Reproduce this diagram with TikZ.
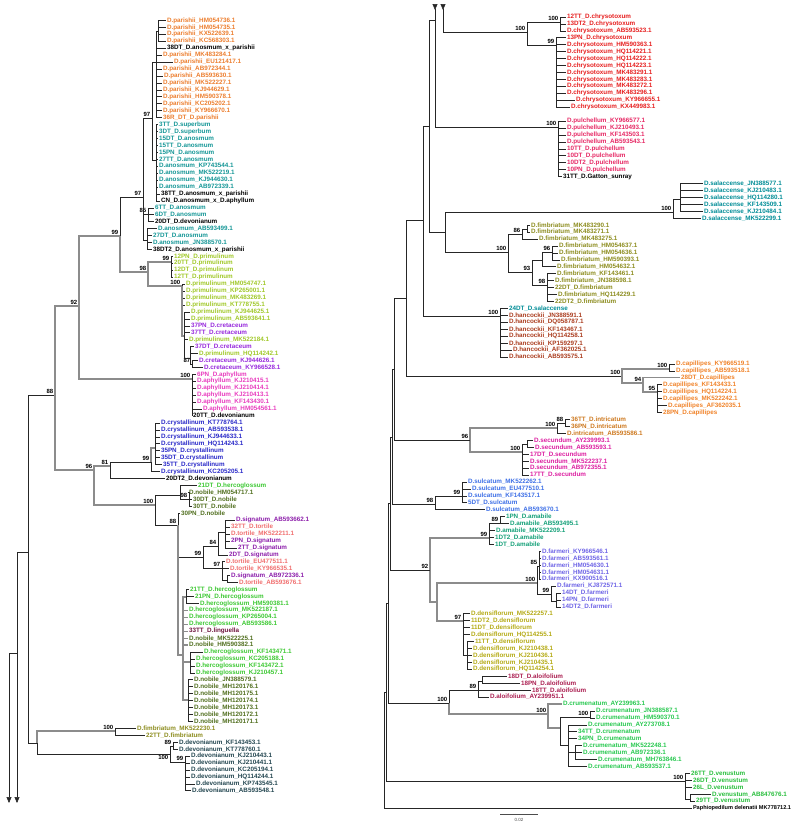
\documentclass[tikz,border=0pt]{standalone}
\usepackage{fontspec}
\setmainfont{Liberation Sans}
\usetikzlibrary{arrows.meta}
\definecolor{cpar}{RGB}{236,125,45}
\definecolor{cano}{RGB}{20,150,150}
\definecolor{cpri}{RGB}{160,200,40}
\definecolor{ccre}{RGB}{150,40,220}
\definecolor{caph}{RGB}{232,60,190}
\definecolor{ccry}{RGB}{40,40,200}
\definecolor{cher}{RGB}{60,200,50}
\definecolor{cnob}{RGB}{80,110,30}
\definecolor{csig}{RGB}{140,30,170}
\definecolor{ctor}{RGB}{240,110,110}
\definecolor{clin}{RGB}{110,20,60}
\definecolor{cfim}{RGB}{140,140,30}
\definecolor{cdev}{RGB}{35,70,80}
\definecolor{cchr}{RGB}{230,30,30}
\definecolor{cpul}{RGB}{230,40,100}
\definecolor{csal}{RGB}{0,140,150}
\definecolor{chan}{RGB}{170,60,30}
\definecolor{ccap}{RGB}{240,130,40}
\definecolor{cint}{RGB}{205,120,30}
\definecolor{csec}{RGB}{220,30,160}
\definecolor{csul}{RGB}{60,110,230}
\definecolor{cama}{RGB}{20,160,120}
\definecolor{cfar}{RGB}{110,100,230}
\definecolor{cden}{RGB}{180,170,20}
\definecolor{calo}{RGB}{170,30,80}
\definecolor{ccru}{RGB}{40,200,80}
\definecolor{cven}{RGB}{40,190,60}
% leaves: left column rows and right column rows
\newcommand\lf[5]{\node[lf,text=#4] (#1) at (#2,{13.5+6.94*#3}) {#5};}
\newcommand\rf[5]{\node[lf,text=#4] (#1) at (#2,{10+6.94*#3}) {#5};}
% inner node with its support value
\newcommand\nd[4]{\coordinate (#1) at (#2,#3); \node[bs] (#1-bs) at (#1) {#4};}
\newcommand\kids[3][br]{\foreach \c in {#3} {\draw[#1] (#2) |- (\c);}}
\begin{document}
\begin{tikzpicture}[x=1pt,y=-1pt,
  lf/.style={anchor=west,inner xsep=0.8pt,inner ysep=0pt,font=\fontsize{6.3}{7}\selectfont\bfseries},
  bs/.style={anchor=south east,inner sep=0pt,xshift=-1.5pt,yshift=1pt,font=\fontsize{6}{6}\selectfont\bfseries},
  br/.style={line width=0.6pt,black!85},
  gb/.style={line width=1.1pt,black!45},
  tip/.style={-{Triangle[width=5pt,length=6pt]}}]
\useasboundingbox (0,0) rectangle (790,822);

% ---- left column leaves
\lf{pa1}{166}{1}{cpar}{D.parishii\_HM054736.1}
\lf{pa2}{166}{2}{cpar}{D.parishii\_HM054735.1}
\lf{pa3}{166}{3}{cpar}{D.parishii\_KX522639.1}
\lf{pa4}{166}{4}{cpar}{D.parishii\_KC568303.1}
\lf{hy1}{166}{5}{black}{38DT\_D.anosmum\_x\_parishii}
\lf{pa5}{162}{6}{cpar}{D.parishii\_MK483284.1}
\lf{pa6}{173}{7}{cpar}{D.parishii\_EU121417.1}
\lf{pa7}{162}{8}{cpar}{D.parishii\_AB972344.1}
\lf{pa8}{163}{9}{cpar}{D.parishii\_AB593630.1}
\lf{pa9}{162}{10}{cpar}{D.parishii\_MK522227.1}
\lf{pa10}{162}{11}{cpar}{D.parishii\_KJ944629.1}
\lf{pa11}{162}{12}{cpar}{D.parishii\_HM590378.1}
\lf{pa12}{162}{13}{cpar}{D.parishii\_KC205202.1}
\lf{pa13}{162}{14}{cpar}{D.parishii\_KY966670.1}
\lf{pa14}{162}{15}{cpar}{36R\_DT\_D.parishii}
\lf{an1}{158}{16}{cano}{3TT\_D.superbum}
\lf{an2}{158}{17}{cano}{3DT\_D.superbum}
\lf{an3}{158}{18}{cano}{15DT\_D.anosmum}
\lf{an4}{158}{19}{cano}{15TT\_D.anosmum}
\lf{an5}{158}{20}{cano}{15PN\_D.anosmum}
\lf{an6}{158}{21}{cano}{27TT\_D.anosmum}
\lf{an7}{158}{22}{cano}{D.anosmum\_KP743544.1}
\lf{an8}{158}{23}{cano}{D.anosmum\_MK522219.1}
\lf{an9}{158}{24}{cano}{D.anosmum\_KJ944630.1}
\lf{an10}{158}{25}{cano}{D.anosmum\_AB972339.1}
\lf{hy2}{160}{26}{black}{38TT\_D.anosmum\_x\_parishii}
\lf{hy3}{160}{27}{black}{CN\_D.anosmum\_x\_D.aphyllum}
\lf{an11}{154}{28}{cano}{6TT\_D.anosmum}
\lf{an12}{154}{29}{cano}{6DT\_D.anosmum}
\lf{dv1}{154}{30}{black}{20DT\_D.devonianum}
\lf{an13}{157}{31}{cano}{D.anosmum\_AB593499.1}
\lf{an14}{152}{32}{cano}{27DT\_D.anosmum}
\lf{an15}{152}{33}{cano}{D.anosmum\_JN388570.1}
\lf{hy4}{152}{34}{black}{38DT2\_D.anosmum\_x\_parishii}
\lf{pr1}{173}{35}{cpri}{12PN\_D.primulinum}
\lf{pr2}{173}{36}{cpri}{20TT\_D.primulinum}
\lf{pr3}{173}{37}{cpri}{12DT\_D.primulinum}
\lf{pr4}{173}{38}{cpri}{12TT\_D.primulinum}
\lf{pr5}{185}{39}{cpri}{D.primulinum\_HM054747.1}
\lf{pr6}{185}{40}{cpri}{D.primulinum\_KP265001.1}
\lf{pr7}{185}{41}{cpri}{D.primulinum\_MK483269.1}
\lf{pr8}{185}{42}{cpri}{D.primulinum\_KT778755.1}
\lf{pr9}{190}{43}{cpri}{D.primulinum\_KJ944625.1}
\lf{pr10}{190}{44}{cpri}{D.primulinum\_AB593641.1}
\lf{cr1}{190}{45}{ccre}{37PN\_D.cretaceum}
\lf{cr2}{190}{46}{ccre}{37TT\_D.cretaceum}
\lf{pr11}{188}{47}{cpri}{D.primulinum\_MK522184.1}
\lf{cr3}{194}{48}{ccre}{37DT\_D.cretaceum}
\lf{pr12}{198}{49}{cpri}{D.primulinum\_HQ114242.1}
\lf{cr4}{198}{50}{ccre}{D.cretaceum\_KJ944626.1}
\lf{cr5}{203}{51}{ccre}{D.cretaceum\_KY966528.1}
\lf{ap1}{196}{52}{caph}{6PN\_D.aphyllum}
\lf{ap2}{196}{53}{caph}{D.aphyllum\_KJ210415.1}
\lf{ap3}{196}{54}{caph}{D.aphyllum\_KJ210414.1}
\lf{ap4}{196}{55}{caph}{D.aphyllum\_KJ210413.1}
\lf{ap5}{196}{56}{caph}{D.aphyllum\_KF143430.1}
\lf{ap6}{202}{57}{caph}{D.aphyllum\_HM054561.1}
\lf{dv2}{192}{58}{black}{20TT\_D.devonianum}
\lf{cy1}{160}{59}{ccry}{D.crystallinum\_KT778764.1}
\lf{cy2}{160}{60}{ccry}{D.crystallinum\_AB593538.1}
\lf{cy3}{160}{61}{ccry}{D.crystallinum\_KJ944633.1}
\lf{cy4}{160}{62}{ccry}{D.crystallinum\_HQ114243.1}
\lf{cy5}{160}{63}{ccry}{35PN\_D.crystallinum}
\lf{cy6}{160}{64}{ccry}{35DT\_D.crystallinum}
\lf{cy7}{162}{65}{ccry}{35TT\_D.crystallinum}
\lf{cy8}{160}{66}{ccry}{D.crystallinum\_KC205205.1}
\lf{dv3}{165}{67}{black}{20DT2\_D.devonianum}
\lf{he1}{197}{68}{cher}{21DT\_D.hercoglossum}
\lf{no1}{188}{69}{cnob}{D.nobile\_HM054717.1}
\lf{no2}{192}{70}{cnob}{30DT\_D.nobile}
\lf{no3}{192}{71}{cnob}{30TT\_D.nobile}
\lf{no4}{180}{72}{cnob}{30PN\_D.nobile}
\lf{si1}{235}{73}{csig}{D.signatum\_AB593662.1}
\lf{to1}{230}{74}{ctor}{32TT\_D.tortile}
\lf{to2}{230}{75}{ctor}{D.tortile\_MK522211.1}
\lf{si2}{230}{76}{csig}{2PN\_D.signatum}
\lf{si3}{237}{77}{csig}{2TT\_D.signatum}
\lf{si4}{228}{78}{csig}{2DT\_D.signatum}
\lf{to3}{225}{79}{ctor}{D.tortile\_EU477511.1}
\lf{to4}{229}{80}{ctor}{D.tortile\_KY966535.1}
\lf{si5}{230}{81}{csig}{D.signatum\_AB972336.1}
\lf{to5}{238}{82}{ctor}{D.tortile\_AB593676.1}
\lf{he2}{189}{83}{cher}{21TT\_D.hercoglossum}
\lf{he3}{194}{84}{cher}{21PN\_D.hercoglossum}
\lf{he4}{199}{85}{cher}{D.hercoglossum\_HM590381.1}
\lf{he5}{188}{86}{cher}{D.hercoglossum\_MK522187.1}
\lf{he6}{188}{87}{cher}{D.hercoglossum\_KP265004.1}
\lf{he7}{188}{88}{cher}{D.hercoglossum\_AB593586.1}
\lf{li1}{188}{89}{clin}{33TT\_D.linguella}
\lf{no5}{188}{90}{cnob}{D.nobile\_MK522225.1}
\lf{no6}{188}{91}{cnob}{D.nobile\_HM590382.1}
\lf{he8}{203}{92}{cher}{D.hercoglossum\_KF143471.1}
\lf{he9}{195}{93}{cher}{D.hercoglossum\_KC205188.1}
\lf{he10}{195}{94}{cher}{D.hercoglossum\_KF143472.1}
\lf{he11}{195}{95}{cher}{D.hercoglossum\_KJ210457.1}
\lf{no7}{193}{96}{cnob}{D.nobile\_JN388579.1}
\lf{no8}{193}{97}{cnob}{D.nobile\_MH120176.1}
\lf{no9}{193}{98}{cnob}{D.nobile\_MH120175.1}
\lf{no10}{193}{99}{cnob}{D.nobile\_MH120174.1}
\lf{no11}{193}{100}{cnob}{D.nobile\_MH120173.1}
\lf{no12}{193}{101}{cnob}{D.nobile\_MH120172.1}
\lf{no13}{193}{102}{cnob}{D.nobile\_MH120171.1}
\lf{fi1}{136}{103}{cfim}{D.fimbriatum\_MK522230.1}
\lf{fi2}{145}{104}{cfim}{22TT\_D.fimbriatum}
\lf{de1}{178}{105}{cdev}{D.devonianum\_KF143453.1}
\lf{de2}{178}{106}{cdev}{D.devonianum\_KT778760.1}
\lf{de3}{190}{107}{cdev}{D.devonianum\_KJ210443.1}
\lf{de4}{190}{108}{cdev}{D.devonianum\_KJ210441.1}
\lf{de5}{190}{109}{cdev}{D.devonianum\_KC205194.1}
\lf{de6}{190}{110}{cdev}{D.devonianum\_HQ114244.1}
\lf{de7}{195}{111}{cdev}{D.devonianum\_KP743545.1}
\lf{de8}{191}{112}{cdev}{D.devonianum\_AB593548.1}

% ---- right column leaves
\rf{ch1}{566}{1}{cchr}{12TT\_D.chrysotoxum}
\rf{ch2}{566}{2}{cchr}{13DT2\_D.chrysotoxum}
\rf{ch3}{566}{3}{cchr}{D.chrysotoxum\_AB593523.1}
\rf{ch4}{566}{4}{cchr}{13PN\_D.chrysotoxum}
\rf{ch5}{566}{5}{cchr}{D.chrysotoxum\_HM590363.1}
\rf{ch6}{566}{6}{cchr}{D.chrysotoxum\_HQ114221.1}
\rf{ch7}{566}{7}{cchr}{D.chrysotoxum\_HQ114222.1}
\rf{ch8}{566}{8}{cchr}{D.chrysotoxum\_HQ114223.1}
\rf{ch9}{566}{9}{cchr}{D.chrysotoxum\_MK483291.1}
\rf{ch10}{566}{10}{cchr}{D.chrysotoxum\_MK483283.1}
\rf{ch11}{566}{11}{cchr}{D.chrysotoxum\_MK483272.1}
\rf{ch12}{566}{12}{cchr}{D.chrysotoxum\_MK483296.1}
\rf{ch13}{575}{13}{cchr}{D.chrysotoxum\_KY966655.1}
\rf{ch14}{570}{14}{cchr}{D.chrysotoxum\_KX449983.1}
\rf{pu1}{566}{16}{cpul}{D.pulchellum\_KY966577.1}
\rf{pu2}{566}{17}{cpul}{D.pulchellum\_KJ210493.1}
\rf{pu3}{566}{18}{cpul}{D.pulchellum\_KF143503.1}
\rf{pu4}{566}{19}{cpul}{D.pulchellum\_AB593543.1}
\rf{pu5}{566}{20}{cpul}{10TT\_D.pulchellum}
\rf{pu6}{566}{21}{cpul}{10DT\_D.pulchellum}
\rf{pu7}{566}{22}{cpul}{10DT2\_D.pulchellum}
\rf{pu8}{566}{23}{cpul}{10PN\_D.pulchellum}
\rf{gs1}{562}{24}{black}{31TT\_D.Gatton\_sunray}
\rf{sa1}{703}{25}{csal}{D.salaccense\_JN388577.1}
\rf{sa2}{703}{26}{csal}{D.salaccense\_KJ210483.1}
\rf{sa3}{703}{27}{csal}{D.salaccense\_HQ114280.1}
\rf{sa4}{703}{28}{csal}{D.salaccense\_KF143509.1}
\rf{sa5}{703}{29}{csal}{D.salaccense\_KJ210484.1}
\rf{sa6}{701}{30}{csal}{D.salaccense\_MK522299.1}
\rf{fm1}{530}{31}{cfim}{D.fimbriatum\_MK483290.1}
\rf{fm2}{530}{32}{cfim}{D.fimbriatum\_MK483271.1}
\rf{fm3}{538}{33}{cfim}{D.fimbriatum\_MK483275.1}
\rf{fm4}{558}{34}{cfim}{D.fimbriatum\_HM054637.1}
\rf{fm5}{558}{35}{cfim}{D.fimbriatum\_HM054636.1}
\rf{fm6}{560}{36}{cfim}{D.fimbriatum\_HM590393.1}
\rf{fm7}{556}{37}{cfim}{D.fimbriatum\_HM054632.1}
\rf{fm8}{556}{38}{cfim}{D.fimbriatum\_KF143461.1}
\rf{fm9}{554}{39}{cfim}{D.fimbriatum\_JN388598.1}
\rf{fm10}{554}{40}{cfim}{22DT\_D.fimbriatum}
\rf{fm11}{557}{41}{cfim}{D.fimbriatum\_HQ114229.1}
\rf{fm12}{554}{42}{cfim}{22DT2\_D.fimbriatum}
\rf{sl1}{508}{43}{csal}{24DT\_D.salaccense}
\rf{hk1}{508}{44}{chan}{D.hancockii\_JN388591.1}
\rf{hk2}{508}{45}{chan}{D.hancockii\_DQ058787.1}
\rf{hk3}{508}{46}{chan}{D.hancockii\_KF143467.1}
\rf{hk4}{508}{47}{chan}{D.hancockii\_HQ114258.1}
\rf{hk5}{508}{48}{chan}{D.hancockii\_KP159297.1}
\rf{hk6}{512}{49}{chan}{D.hancockii\_AF362025.1}
\rf{hk7}{508}{50}{chan}{D.hancockii\_AB593575.1}
\rf{ca1}{675}{51}{ccap}{D.capillipes\_KY966519.1}
\rf{ca2}{675}{52}{ccap}{D.capillipes\_AB593518.1}
\rf{ca3}{680}{53}{ccap}{28DT\_D.capillipes}
\rf{ca4}{662}{54}{ccap}{D.capillipes\_KF143433.1}
\rf{ca5}{662}{55}{ccap}{D.capillipes\_HQ114224.1}
\rf{ca6}{662}{56}{ccap}{D.capillipes\_MK522242.1}
\rf{ca7}{667}{57}{ccap}{D.capillipes\_AF362035.1}
\rf{ca8}{662}{58}{ccap}{28PN\_D.capillipes}
\rf{in1}{570}{59}{cint}{36TT\_D.intricatum}
\rf{in2}{570}{60}{cint}{36PN\_D.intricatum}
\rf{in3}{566}{61}{cint}{D.intricatum\_AB593586.1}
\rf{se1}{533}{62}{csec}{D.secundum\_AY239993.1}
\rf{se2}{534}{63}{csec}{D.secundum\_AB593593.1}
\rf{se3}{529}{64}{csec}{17DT\_D.secundum}
\rf{se4}{529}{65}{csec}{D.secundum\_MK522237.1}
\rf{se5}{529}{66}{csec}{D.secundum\_AB972355.1}
\rf{se6}{529}{67}{csec}{17TT\_D.secundum}
\rf{su1}{467}{68}{csul}{D.sulcatum\_MK522262.1}
\rf{su2}{471}{69}{csul}{D.sulcatum\_EU477510.1}
\rf{su3}{467}{70}{csul}{D.sulcatum\_KF143517.1}
\rf{su4}{467}{71}{csul}{5DT\_D.sulcatum}
\rf{su5}{485}{72}{csul}{D.sulcatum\_AB593670.1}
\rf{am1}{505}{73}{cama}{1PN\_D.amabile}
\rf{am2}{509}{74}{cama}{D.amabile\_AB593495.1}
\rf{am3}{495}{75}{cama}{D.amabile\_MK522209.1}
\rf{am4}{494}{76}{cama}{1DT2\_D.amabile}
\rf{am5}{494}{77}{cama}{1DT\_D.amabile}
\rf{fa1}{541}{78}{cfar}{D.farmeri\_KY966546.1}
\rf{fa2}{541}{79}{cfar}{D.farmeri\_AB593561.1}
\rf{fa3}{541}{80}{cfar}{D.farmeri\_HM054630.1}
\rf{fa4}{541}{81}{cfar}{D.farmeri\_HM054631.1}
\rf{fa5}{541}{82}{cfar}{D.farmeri\_KX900516.1}
\rf{fa6}{556}{83}{cfar}{D.farmeri\_KJ872571.1}
\rf{fa7}{561}{84}{cfar}{14DT\_D.farmeri}
\rf{fa8}{561}{85}{cfar}{14PN\_D.farmeri}
\rf{fa9}{561}{86}{cfar}{14DT2\_D.farmeri}
\rf{dn1}{470}{87}{cden}{D.densiflorum\_MK522257.1}
\rf{dn2}{470}{88}{cden}{11DT2\_D.densiflorum}
\rf{dn3}{470}{89}{cden}{11DT\_D.densiflorum}
\rf{dn4}{470}{90}{cden}{D.densiflorum\_HQ114255.1}
\rf{dn5}{474}{91}{cden}{11TT\_D.densiflorum}
\rf{dn6}{472}{92}{cden}{D.densiflorum\_KJ210438.1}
\rf{dn7}{472}{93}{cden}{D.densiflorum\_KJ210436.1}
\rf{dn8}{472}{94}{cden}{D.densiflorum\_KJ210435.1}
\rf{dn9}{472}{95}{cden}{D.densiflorum\_HQ114254.1}
\rf{al1}{507}{96}{calo}{18DT\_D.aloifolium}
\rf{al2}{520}{97}{calo}{18PN\_D.aloifolium}
\rf{al3}{531}{98}{calo}{18TT\_D.aloifolium}
\rf{al4}{489}{99}{calo}{D.aloifolium\_AY239951.1}
\rf{cu1}{562}{100}{ccru}{D.crumenatum\_AY239963.1}
\rf{cu2}{595}{101}{ccru}{D.crumenatum\_JN388587.1}
\rf{cu3}{595}{102}{ccru}{D.crumenatum\_HM590370.1}
\rf{cu4}{587}{103}{ccru}{D.crumenatum\_AY273708.1}
\rf{cu5}{577}{104}{ccru}{34TT\_D.crumenatum}
\rf{cu6}{577}{105}{ccru}{34PN\_D.crumenatum}
\rf{cu7}{582}{106}{ccru}{D.crumenatum\_MK522248.1}
\rf{cu8}{582}{107}{ccru}{D.crumenatum\_AB972336.1}
\rf{cu9}{597}{108}{ccru}{D.crumenatum\_MH763846.1}
\rf{cu10}{587}{109}{ccru}{D.crumenatum\_AB593537.1}
\rf{ve1}{690}{110}{cven}{26TT\_D.venustum}
\rf{ve2}{692}{111}{cven}{26DT\_D.venustum}
\rf{ve3}{692}{112}{cven}{26L\_D.venustum}
\rf{ve4}{711}{113}{cven}{D.venustum\_AB847676.1}
\rf{ve5}{695}{114}{cven}{29TT\_D.venustum}
\node[lf,font=\fontsize{5.6}{6}\selectfont\bfseries] (pp1) at (692,808) {Paphiopedilum delenatii MK778712.1};

% ---- left column inner nodes
\nd{n28}{28}{552}{}
\nd{n88}{55}{395}{88}
\nd{n92}{79}{306}{92}
\nd{n99a}{120}{236}{99}
\nd{n97a}{143}{197}{97}
\nd{n97b}{152}{118}{97}
\nd{npar}{156}{62}{}
\nd{npa1}{158}{31}{}
\nd{nsup}{156}{160}{}
\nd{n85}{148}{214}{85}
\nd{nan2}{147}{240}{}
\nd{n98}{148}{272}{98}
\nd{n99p}{171}{262}{99}
\nd{n100p}{182}{286}{100}
\nd{nc1}{184}{336}{}
\nd{nc3}{190}{358}{}
\nd{n87}{192}{364}{87}
\nd{naph}{192}{379}{100}
\nd{n96}{94}{470}{96}
\nd{n81}{110}{466}{81}
\nd{ncr}{151}{462}{99}
\nd{ncr2}{155}{448}{}
\nd{n100h}{155}{505}{100}
\nd{nx}{180}{495}{}
\nd{n98n}{189}{499}{98}
\nd{n88b}{178}{525}{88}
\nd{n99s}{203}{557}{99}
\nd{n84}{218}{546}{84}
\nd{n84b}{225}{532}{}
\nd{n97s}{222}{568}{97}
\nd{nsig}{227}{580}{}
\nd{nherc}{183}{655}{}
\nd{nh1}{186}{597}{}
\nd{nh2}{190}{662}{}
\nd{nn}{188}{700}{}
\nd{n37}{37}{743}{}
\nd{nf}{115}{731}{100}
\nd{nd}{170}{754}{}
\node[bs,anchor=north east,yshift=-2.5pt] (nd-bs) at (nd) {100};
\nd{n89d}{173}{746}{89}
\nd{n99d}{185}{762}{99}

% ---- right column inner nodes
\nd{c9r}{435}{20}{}
\nd{c17r}{443}{32}{}
\nd{nchr}{527}{32}{100}
\nd{n100c}{560}{22}{100}
\nd{n99c}{556}{45}{99}
\nd{npul}{558}{127}{100}
\nd{n429}{429}{126}{}
\nd{n445}{445}{232}{}
\nd{nsal}{673}{212}{100}
\nd{nsa1}{680}{199}{}
\nd{nfim}{508}{252}{100}
\nd{n86f}{522}{234}{86}
\nd{n86b}{527}{229}{}
\nd{n93f}{532}{272}{93}
\nd{nf2}{542}{260}{}
\nd{n96f}{552}{252}{96}
\nd{n98f}{547}{285}{98}
\nd{n423}{423}{220}{}
\nd{nhan}{500}{316}{100}
\nd{n406}{406}{298}{}
\nd{ncap}{622}{376}{100}
\nd{n100cap}{669}{369}{100}
\nd{n94}{643}{383}{94}
\nd{n95}{657}{392}{95}
\nd{n96r}{470}{440}{96}
\nd{nint}{557}{428}{100}
\nd{n88i}{565}{423}{88}
\nd{nsec}{522}{452}{100}
\nd{ns1}{527}{444}{}
\nd{n98r}{435}{504}{98}
\nd{n99su}{462}{496}{99}
\nd{n92r}{430}{570}{92}
\nd{n99am}{489}{538}{99}
\nd{n89am}{500}{523}{89}
\nd{nfd}{437}{602}{}
\nd{nfar}{537}{583}{100}
\nd{n85f}{539}{566}{85}
\nd{n99f}{551}{594}{99}
\nd{nf3}{556}{601}{}
\nd{nden}{463}{621}{97}
\nd{nd2}{467}{655}{}
\nd{nalo}{449}{703}{100}
\nd{n89al}{478}{690}{89}
\nd{nal2}{482}{681}{}
\nd{ncru}{548}{714}{100}
\nd{ncr2r}{560}{728}{}
\nd{n100cr}{590}{717}{100}
\nd{ncr3}{568}{745}{}
\nd{ncr4}{575}{752}{}
\nd{nven}{685}{781}{100}
\nd{nv2}{690}{799}{}
\nd{nr5}{394}{369}{}
\nd{nr4}{392}{437}{}
\nd{nr3}{390}{503}{}
\nd{nr2}{388}{603}{}
\nd{nr1}{386}{692}{}
\nd{nr0}{384}{751}{}

% ---- continuation marks between the two columns
\coordinate (a9) at (9,653);
\coordinate (e9) at (9,803);
\coordinate (a17) at (17,552);
\coordinate (e17) at (17,803);
\coordinate (t9) at (435,4);
\coordinate (t17) at (443,4);
\draw[br,tip] (a9) -- (e9);
\draw[br,tip] (a17) -- (e17);
\draw[br] (a9) -| (a17);
\draw[br] (a17) -- (n28);
\draw[br,{Triangle[reversed,width=5pt,length=6pt]}-] (t9) -- (c9r);
\draw[br,{Triangle[reversed,width=5pt,length=6pt]}-] (t17) -- (c17r);

% ---- left column branches
\kids{n28}{n88,n37}
\kids[gb]{n88}{n92,n96}
\kids[gb]{n92}{n99a,naph}
\kids{n99a}{n97a}
\kids[gb]{n99a}{n98}
\kids{n97a}{n97b,n85,nan2}
\kids{n97b}{npar,nsup}
\kids{npar}{npa1,hy1,pa5,pa6,pa7,pa8,pa9,pa10,pa11,pa12,pa13,pa14}
\kids{npa1}{pa1,pa2,pa3,pa4}
\kids{nsup}{an1,an2,an3,an4,an5,an6,an7,an8,an9,an10,hy2,hy3}
\kids{n85}{an11,an12,dv1}
\kids{nan2}{an13,an14,an15,hy4}
\kids[gb]{n98}{n99p,n100p}
\kids{n99p}{pr1,pr2,pr3,pr4}
\kids{n100p}{pr5,pr6,pr7,pr8}
\kids[gb]{n100p}{nc1}
\kids{nc1}{pr9,pr10,cr1,cr2,pr11,nc3}
\kids{nc3}{cr3,pr12,n87}
\kids{n87}{cr4,cr5}
\kids{naph}{ap1,ap2,ap3,ap4,ap5,ap6,dv2}
\kids[gb]{n96}{n81,n100h}
\kids{n81}{ncr,dv3}
\kids[gb]{ncr}{ncr2}
\kids{ncr}{cy8}
\kids{ncr2}{cy1,cy2,cy3,cy4,cy5,cy6,cy7}
\kids{n100h}{nx,n88b}
\kids{nx}{he1,n98n}
\kids{n98n}{no1,no2,no3}
\kids{n88b}{no4,n99s}
\kids[gb]{n88b}{nherc}
\kids{n99s}{n84,n97s}
\kids{n84}{n84b,si4}
\kids{n84b}{si1,to1,to2,si2,si3}
\kids{n97s}{to3,to4,nsig}
\kids{nsig}{si5,to5}
\kids[gb]{nherc}{nh1,he5,he6,he7,li1,no5,no6,nh2,nn}
\kids{nh1}{he2,he3,he4}
\kids{nh2}{he8,he9,he10,he11}
\kids{nn}{no7,no8,no9,no10,no11,no12,no13}
\kids[gb]{n37}{nf}
\kids{n37}{nd}
\kids{nf}{fi1,fi2}
\kids{nd}{n89d,n99d}
\kids{n89d}{de1,de2}
\kids{n99d}{de3,de4,de5,de6,de7,de8}

% ---- right column branches
\kids{n429}{c9r,n445}
\kids{c9r}{npul}
\draw[br] (c17r) -- (nchr);
\kids{nchr}{n100c,n99c}
\kids{n100c}{ch1,ch2,ch3}
\kids{n99c}{ch4,ch5,ch6,ch7,ch8,ch9,ch10,ch11,ch12,ch13,ch14}
\kids{npul}{pu1,pu2,pu3,pu4,pu5,pu6,pu7,pu8,gs1}
\kids{n445}{nsal,nfim}
\kids{nsal}{nsa1,sa6}
\kids{nsa1}{sa1,sa2,sa3,sa4,sa5}
\kids{nfim}{n86f,n93f}
\kids{n86f}{n86b,fm3}
\kids{n86b}{fm1,fm2}
\kids{n93f}{nf2,n98f}
\kids{nf2}{n96f,fm7}
\kids{n96f}{fm4,fm5,fm6}
\kids{n98f}{fm8,fm9,fm10,fm11,fm12}
\kids{n423}{n429,nhan}
\kids{nhan}{sl1,hk1,hk2,hk3,hk4,hk5,hk6,hk7}
\kids{n406}{n423,ncap}
\kids[gb]{ncap}{n100cap,n94}
\kids{n100cap}{ca1,ca2}
\kids[gb]{n94}{ca3,n95}
\kids{n95}{ca4,ca5,ca6,ca7,ca8}
\kids[gb]{n96r}{nint,nsec}
\kids{nint}{n88i,in3}
\kids{n88i}{in1,in2}
\kids{nsec}{ns1,se3,se4,se5,se6}
\kids{ns1}{se1,se2}
\kids{n98r}{n99su,su5}
\kids{n99su}{su1,su2,su3,su4}
\kids[gb]{n92r}{n99am,nfd}
\kids{n99am}{n89am,am3,am4,am5}
\kids{n89am}{am1,am2}
\kids[gb]{nfd}{nfar,nden}
\kids{nfar}{n85f,n99f}
\kids{n85f}{fa1,fa2,fa3,fa4,fa5}
\kids{n99f}{fa6,nf3}
\kids{nf3}{fa7,fa8,fa9}
\kids{nden}{dn1,dn2,dn3,dn4,nd2}
\kids{nd2}{dn5,dn6,dn7,dn8,dn9}
\kids{nalo}{n89al}
\kids[gb]{nalo}{ncru}
\kids{n89al}{nal2,al3,al4}
\kids{nal2}{al1,al2}
\kids[gb]{ncru}{cu1,ncr2r}
\kids{ncr2r}{n100cr,ncr3}
\kids{n100cr}{cu2,cu3}
\kids{ncr3}{cu4,cu5,cu6,ncr4,cu10}
\kids{ncr4}{cu7,cu8,cu9}
\kids{nven}{ve1,ve2,ve3,nv2}
\kids{nv2}{ve4,ve5}
\kids{nr5}{n406,n96r}
\kids{nr4}{nr5,n98r}
\kids{nr3}{nr4,n92r}
\kids{nr2}{nr3,nalo}
\kids{nr1}{nr2,nven}
\kids{nr0}{nr1,pp1}

% ---- scale bar
\coordinate (sb1) at (500,814);
\coordinate (sb2) at (538,814);
\draw[line width=0.5pt,black!70] (sb1) -- (sb2);
\node[font=\fontsize{4.5}{5}\selectfont,text=black!70] (sbl) at (519,819.5) {0.02};
\end{tikzpicture}
\end{document}
